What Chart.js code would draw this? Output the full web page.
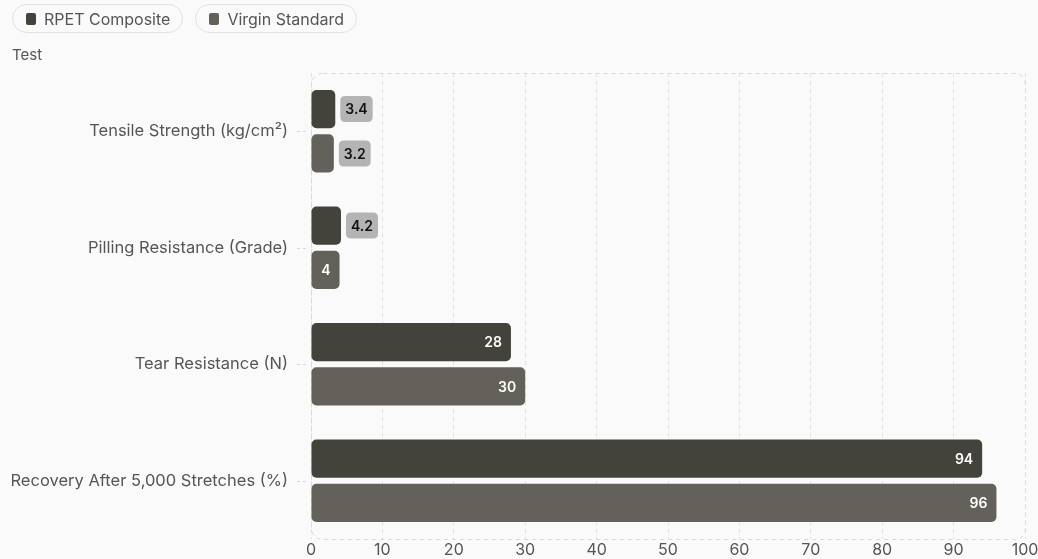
<!DOCTYPE html>
<html>
<head>
<meta charset="utf-8">
<script src="https://cdn.jsdelivr.net/npm/chart.js@4"></script>
<style>
  html, body { margin: 0; padding: 0; background: #fafafa; }
  body { width: 1038px; height: 559px; position: relative; overflow: hidden; font-family: Inter, "Noto Sans", sans-serif; }
  #legend { position: absolute; left: 12px; top: 4px; display: flex; gap: 12px; z-index: 2; }
  .pill { display: flex; align-items: center; height: 29px; padding: 0 12px 0 13px; border: 1px solid #e0e0e0; border-radius: 15px; font-size: 16px; color: #555; box-sizing: border-box; }
  .pill i { display: inline-block; width: 10px; height: 12px; border-radius: 2px; margin-right: 8px; }
  #ytitle { position: absolute; left: 12px; top: 45px; font-size: 15px; color: #555; z-index: 2; }
  #bars { position: absolute; left: 0; top: 0; }
</style>
</head>
<body>
<div id="legend"></div>
<div id="ytitle">Test</div>
<canvas id="bars" width="1038" height="559"></canvas>
<script>
var categories = ['Tensile Strength (kg/cm²)', 'Pilling Resistance (Grade)', 'Tear Resistance (N)', 'Recovery After 5,000 Stretches (%)'];
var rpetValues = [3.4, 4.2, 28, 94];
var virginValues = [3.2, 4, 30, 96];
var xTicks = [0, 10, 20, 30, 40, 50, 60, 70, 80, 90, 100];

var seriesNames = ['RPET Composite', 'Virgin Standard'];
var seriesColors = ['#43423b', '#636159'];

var legendBox = document.getElementById('legend');
seriesNames.forEach(function (name, i) {
    var p = document.createElement('div');
    p.className = 'pill';
    p.innerHTML = '<i style="background:' + seriesColors[i] + '"></i>' + name;
    legendBox.appendChild(p);
});

function roundRect(ctx, x, y, w, h, r) {
    ctx.beginPath();
    ctx.moveTo(x + r, y);
    ctx.lineTo(x + w - r, y);
    ctx.quadraticCurveTo(x + w, y, x + w, y + r);
    ctx.lineTo(x + w, y + h - r);
    ctx.quadraticCurveTo(x + w, y + h, x + w - r, y + h);
    ctx.lineTo(x + r, y + h);
    ctx.quadraticCurveTo(x, y + h, x, y + h - r);
    ctx.lineTo(x, y + r);
    ctx.quadraticCurveTo(x, y, x + r, y);
    ctx.closePath();
}

// dashed frame round the plot area, plus short dashed ticks at each category
var frame = {
    id: 'frame',
    beforeDatasetsDraw: function (chart) {
        var a = chart.chartArea, ctx = chart.ctx, y = chart.scales.y;
        ctx.save();
        ctx.strokeStyle = '#d8d8d8';
        ctx.lineWidth = 1;
        ctx.setLineDash([4, 4]);
        roundRect(ctx, a.left + 0.5, a.top + 0.5, a.right - a.left, a.bottom - a.top, 12);
        ctx.stroke();
        ctx.setLineDash([3, 3]);
        categories.forEach(function (c, i) {
            var py = Math.round(y.getPixelForValue(i)) + 0.5;
            ctx.beginPath();
            ctx.moveTo(a.left - 14, py);
            ctx.lineTo(a.left - 4, py);
            ctx.stroke();
        });
        ctx.restore();
    }
};

// value labels, inside the bar when they fit, else a grey badge after it
var valueLabels = {
    id: 'valueLabels',
    afterDatasetsDraw: function (chart) {
        var ctx = chart.ctx;
        ctx.save();
        ctx.font = '600 14px Inter, "DejaVu Sans", sans-serif';
        ctx.textBaseline = 'middle';
        chart.data.datasets.forEach(function (ds, di) {
            chart.getDatasetMeta(di).data.forEach(function (bar, i) {
                var txt = String(ds.data[i]);
                var tw = ctx.measureText(txt).width;
                var len = bar.x - bar.base;
                if (tw + 14 <= len) {
                    ctx.fillStyle = '#ffffff';
                    ctx.textAlign = 'right';
                    ctx.fillText(txt, bar.x - 9, bar.y + 1);
                } else {
                    var bx = bar.x + 5, bw = tw + 10, bh = 26;
                    ctx.fillStyle = '#b4b4b4';
                    roundRect(ctx, bx, bar.y - bh / 2, bw, bh, 5);
                    ctx.fill();
                    ctx.fillStyle = '#111111';
                    ctx.textAlign = 'left';
                    ctx.fillText(txt, bx + 5, bar.y + 1);
                }
            });
        });
        ctx.restore();
    }
};

new Chart(document.getElementById('bars'), {
    type: 'bar',
    data: {
        labels: categories,
        datasets: [
            { label: seriesNames[0], data: rpetValues, backgroundColor: seriesColors[0], borderRadius: 5, borderSkipped: false },
            { label: seriesNames[1], data: virginValues, backgroundColor: seriesColors[1], borderRadius: 5, borderSkipped: false }
        ]
    },
    options: {
        indexAxis: 'y',
        responsive: false,
        animation: false,
        maintainAspectRatio: false,
        layout: { padding: { top: 73, left: 12, right: 13, bottom: 0 } },
        datasets: { bar: { categoryPercentage: 0.76, barPercentage: 0.865 } },
        plugins: { legend: { display: false }, tooltip: { enabled: false } },
        scales: {
            x: {
                min: 0, max: 100,
                afterBuildTicks: function (s) { s.ticks = xTicks.map(function (v) { return { value: v }; }); },
                afterFit: function (s) { s.height = 20; s.paddingLeft = 0; s.paddingRight = 0; },
                grid: { color: '#e0e0e0', drawTicks: false, tickBorderDash: [4, 4] },
                border: { display: false, dash: [4, 4] },
                ticks: { color: '#555', font: { family: 'Inter', size: 16 }, padding: 2, maxRotation: 0 }
            },
            y: {
                afterFit: function (s) { s.width = 299; s.paddingTop = 0; s.paddingBottom = 0; },
                grid: { display: false, drawTicks: false },
                border: { display: false },
                ticks: { color: '#555', font: { family: 'Inter', size: 16.5 }, padding: 23 }
            }
        }
    },
    plugins: [frame, valueLabels]
});
</script>
</body>
</html>
